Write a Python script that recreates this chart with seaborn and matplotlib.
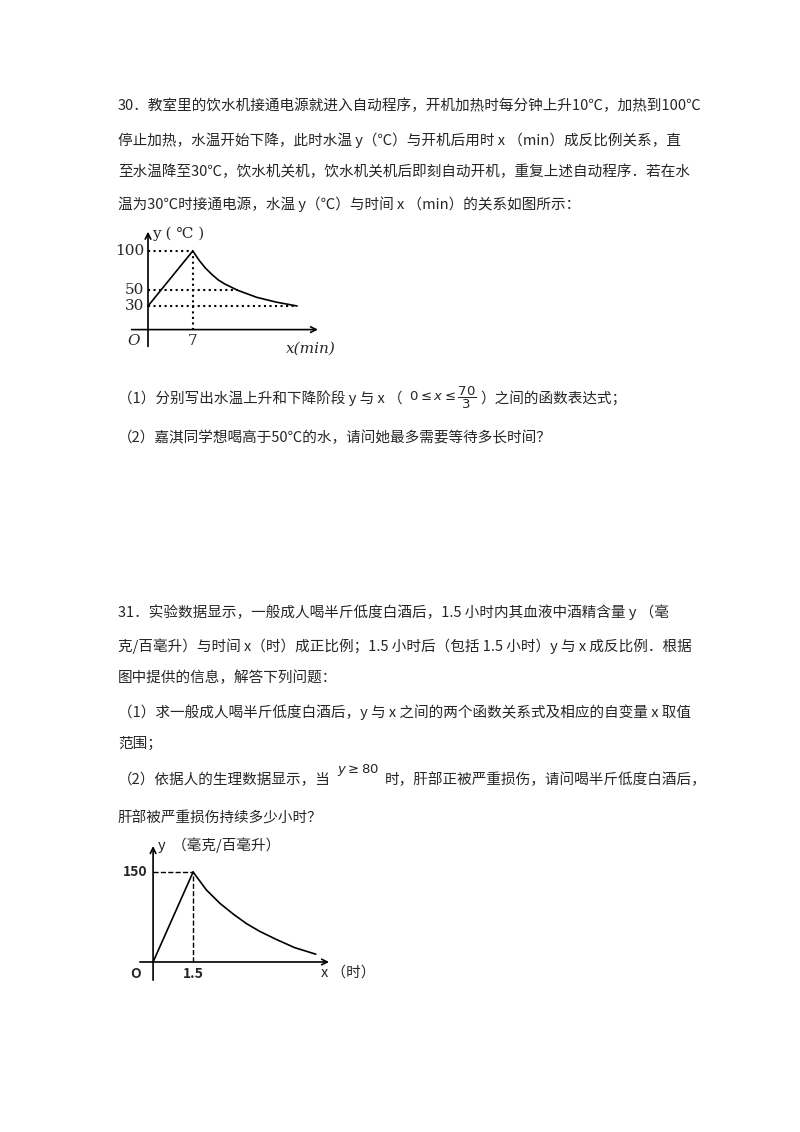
import matplotlib
matplotlib.use("Agg")
import matplotlib.pyplot as plt
import seaborn as sns

sns.set_style("white")
plt.rcParams["font.family"] = ["Noto Sans CJK SC", "DejaVu Sans"]

# graph 1: water temperature
heat_x = [0, 7]
heat_y = [30, 100]
cool_x = [7, 8, 9, 10, 11, 12, 14, 17, 20, 23.3]
cool_y = [100, 88, 78, 70, 63, 58, 50, 41, 35, 30]
g1_yticks = [100, 50, 30]
g1_xtick = 7

# graph 2: alcohol content
rise_x = [0, 1.5]
rise_y = [0, 150]
fall_x = [1.5, 2, 2.5, 3, 3.5, 4, 4.6, 5.3, 6.1]
fall_y = [150, 120, 98, 80, 64, 51, 38, 24, 13]
g2_ytick = 150
g2_xtick = 1.5

W, H = 800, 1132
fig = plt.figure(figsize=(8, 11.32), dpi=100)
renderer = fig.canvas.get_renderer()

def px_text(x, y, s, **kw):
    kw.setdefault("fontsize", 10.5)
    return fig.text(x / W, 1 - y / H, s, va="center", **kw)

def right_px(t):
    return t.get_window_extent(renderer).x1

lines = [
    (118, 106, "30．教室里的饮水机接通电源就进入自动程序，开机加热时每分钟上升10℃，加热到100℃"),
    (118, 140, "停止加热，水温开始下降，此时水温 y（℃）与开机后用时 x （min）成反比例关系，直"),
    (118, 172, "至水温降至30℃，饮水机关机，饮水机关机后即刻自动开机，重复上述自动程序．若在水"),
    (118, 204, "温为30℃时接通电源，水温 y（℃）与时间 x （min）的关系如图所示："),
    (118, 438, "（2）嘉淇同学想喝高于50℃的水，请问她最多需要等待多长时间？"),
    (118, 612, "31．实验数据显示，一般成人喝半斤低度白酒后，1.5 小时内其血液中酒精含量 y （毫"),
    (118, 646, "克/百毫升）与时间 x（时）成正比例；1.5 小时后（包括 1.5 小时）y 与 x 成反比例．根据"),
    (118, 678, "图中提供的信息，解答下列问题："),
    (118, 712, "（1）求一般成人喝半斤低度白酒后，y 与 x 之间的两个函数关系式及相应的自变量 x 取值"),
    (118, 744, "范围；"),
    (118, 818, "肝部被严重损伤持续多少小时？"),
]
for x, y, s in lines:
    px_text(x, y, s)

# lines with inline formulas
t = px_text(118, 398, "（1）分别写出水温上升和下降阶段 y 与 x （")
m = px_text(right_px(t) + 6, 398, r"$0\leq x\leq\dfrac{70}{3}$", fontsize=9.5, family="DejaVu Sans")
px_text(right_px(m) + 4, 398, "）之间的函数表达式；")

t = px_text(118, 780, "（2）依据人的生理数据显示，当")
m = px_text(right_px(t) + 6, 770, r"$y\geq 80$", fontsize=9.5, family="DejaVu Sans")
px_text(right_px(m) + 6, 780, "时，肝部正被严重损伤，请问喝半斤低度白酒后，")


def make_axes(left, top, right, bottom, xlim, ylim):
    ax = fig.add_axes([left / W, 1 - bottom / H, (right - left) / W, (bottom - top) / H])
    ax.set_xlim(*xlim)
    ax.set_ylim(*ylim)
    ax.axis("off")
    return ax

def arrow(ax, start, end):
    ax.annotate("", xy=end, xytext=start,
                arrowprops=dict(arrowstyle="->", color="black", lw=1.2))

# graph 1
ax1 = make_axes(120, 225, 330, 355, (-4.375, 28.44), (-32.3, 133))
arrow(ax1, (-3, 0), (27, 0))
arrow(ax1, (0, -25), (0, 128))
sns.lineplot(x=heat_x, y=heat_y, ax=ax1, color="black", lw=1.2)
sns.lineplot(x=cool_x, y=cool_y, ax=ax1, color="black", lw=1.2)
ax1.plot([0, g1_xtick], [100, 100], ls=":", color="black", lw=1.5)
ax1.plot([g1_xtick, g1_xtick], [0, 100], ls=":", color="black", lw=1.5)
ax1.plot([0, 14], [50, 50], ls=":", color="black", lw=1.5)
ax1.plot([0, 23.3], [30, 30], ls=":", color="black", lw=1.5)
for v in g1_yticks:
    ax1.text(-0.6, v, str(v), ha="right", va="center", fontsize=11, family="DejaVu Serif")
ax1.text(g1_xtick, -6, "7", ha="center", va="top", fontsize=11, family="DejaVu Serif")
ax1.text(-1.2, -6, "O", ha="right", va="top", fontsize=11, style="italic", family="DejaVu Serif")
ax1.text(0.6, 122, "y ( ℃ )", ha="left", va="center", fontsize=11, family=["DejaVu Serif"])
ax1.text(21.5, -15, "x(min)", ha="left", va="top", fontsize=11, style="italic", family="DejaVu Serif")

# graph 2
ax2 = make_axes(120, 835, 390, 990, (-1.24, 8.88), (-46.7, 211.7))
arrow(ax2, (-0.6, 0), (6.7, 0))
arrow(ax2, (0, -35), (0, 198))
sns.lineplot(x=rise_x, y=rise_y, ax=ax2, color="black", lw=1.2)
sns.lineplot(x=fall_x, y=fall_y, ax=ax2, color="black", lw=1.2)
ax2.plot([0, g2_xtick], [150, 150], ls="--", color="black", lw=1)
ax2.plot([g2_xtick, g2_xtick], [0, 150], ls="--", color="black", lw=1)
ax2.text(-0.2, g2_ytick, "150", ha="right", va="center", fontsize=10, weight="bold")
ax2.text(g2_xtick, -8, "1.5", ha="center", va="top", fontsize=10, weight="bold")
ax2.text(-0.45, -8, "O", ha="right", va="top", fontsize=10, style="italic", weight="bold")
ax2.text(0.2, 195, "y  （毫克/百毫升）", ha="left", va="center", fontsize=10.5)
ax2.text(6.3, -18, "x （时）", ha="left", va="center", fontsize=10.5)

fig.savefig("out.png", dpi=100)
